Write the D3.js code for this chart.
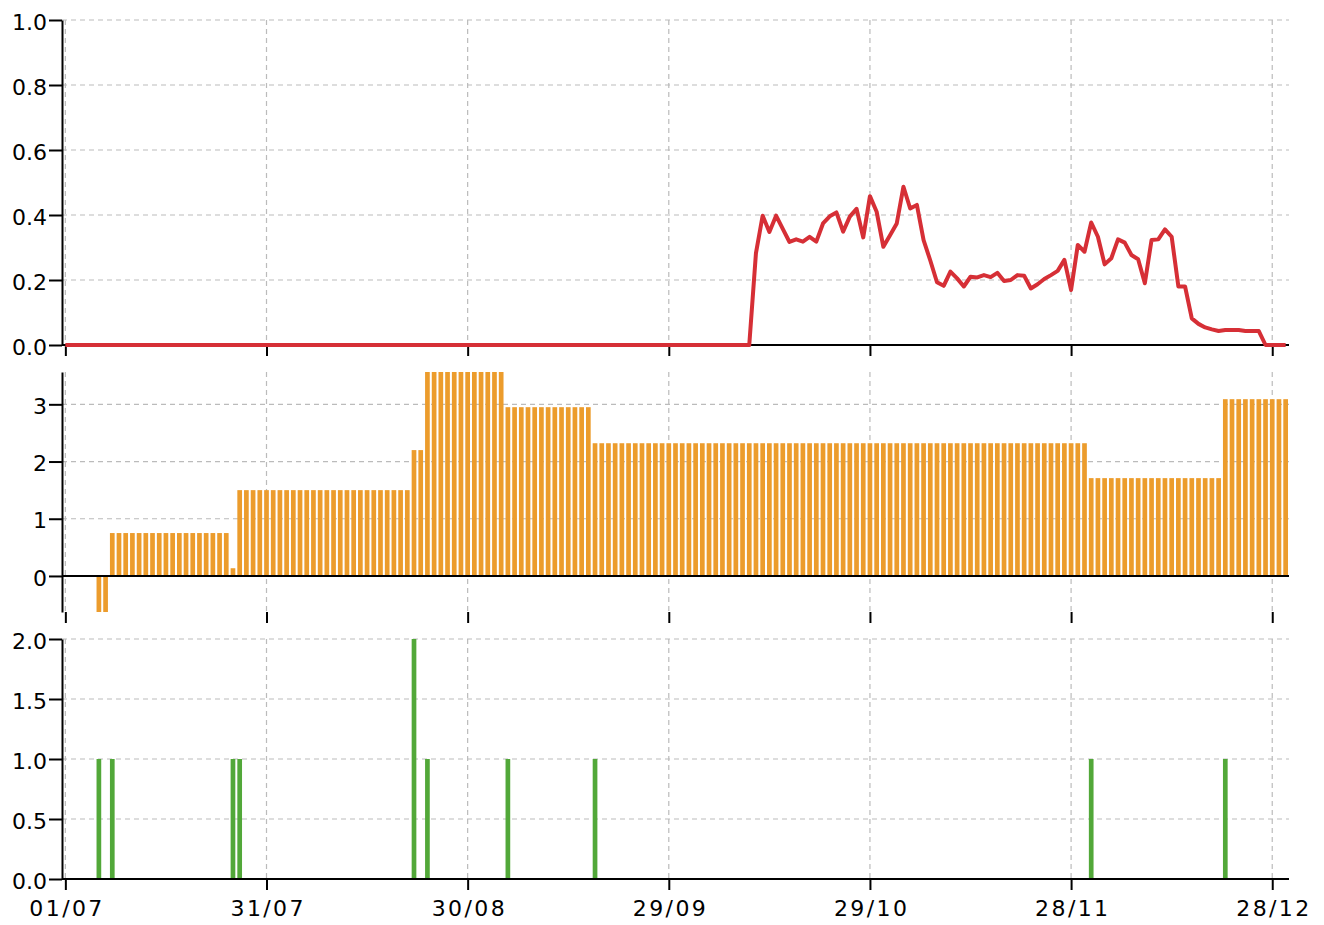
<!DOCTYPE html>
<html>
<head>
<meta charset="utf-8">
<script src="https://cdn.jsdelivr.net/npm/d3@7"></script>
<style>
  body { margin: 0; background: #fff; }
  text { font-family: "DejaVu Sans", sans-serif; }
</style>
</head>
<body>
<div id="chart"></div>
<script>
// days shown: 01/07 .. 30/12, one value per day
const startDay = "2021-07-01"
const endDay = "2021-12-31"   // exclusive

const tickDays = ["2021-07-01", "2021-07-31", "2021-08-30", "2021-09-29", "2021-10-29", "2021-11-28", "2021-12-28"]

// top panel (red line), one value per day
const redValues = [
  0,0,0,0,0,0,0,0,0,0,0,0,0,0,0,0,0,0,0,0,
  0,0,0,0,0,0,0,0,0,0,0,0,0,0,0,0,0,0,0,0,
  0,0,0,0,0,0,0,0,0,0,0,0,0,0,0,0,0,0,0,0,
  0,0,0,0,0,0,0,0,0,0,0,0,0,0,0,0,0,0,0,0,
  0,0,0,0,0,0,0,0,0,0,0,0,0,0,0,0,0,0,0,0,
  0,0,0,0.283,0.398,0.348,0.398,0.357,0.317,0.325,0.318,0.333,0.318,0.374,0.396,0.408,0.349,0.395,0.419,0.331,
  0.458,0.41,0.302,0.338,0.374,0.487,0.42,0.431,0.323,0.26,0.193,0.182,0.226,0.205,0.18,0.21,0.208,0.215,0.209,0.222,
  0.197,0.2,0.215,0.213,0.174,0.187,0.203,0.215,0.228,0.262,0.169,0.308,0.287,0.377,0.333,0.248,0.267,0.325,0.315,0.277,
  0.264,0.19,0.323,0.325,0.356,0.333,0.18,0.18,0.082,0.065,0.054,0.048,0.043,0.046,0.046,0.046,0.043,0.043,0.043,0,
  0,0,0
]

// middle panel (orange bars), one value per day
const orangeValues = [
  0,0,0,0,0,-0.63,-0.63,0.75,0.75,0.75,0.75,0.75,0.75,0.75,0.75,0.75,0.75,0.75,0.75,0.75,
  0.75,0.75,0.75,0.75,0.75,0.135,1.5,1.5,1.5,1.5,1.5,1.5,1.5,1.5,1.5,1.5,1.5,1.5,1.5,1.5,
  1.5,1.5,1.5,1.5,1.5,1.5,1.5,1.5,1.5,1.5,1.5,1.5,2.2,2.2,3.565,3.565,3.565,3.565,3.565,3.565,
  3.565,3.565,3.565,3.565,3.565,3.565,2.95,2.95,2.95,2.95,2.95,2.95,2.95,2.95,2.95,2.95,2.95,2.95,2.95,2.32,
  2.32,2.32,2.32,2.32,2.32,2.32,2.32,2.32,2.32,2.32,2.32,2.32,2.32,2.32,2.32,2.32,2.32,2.32,2.32,2.32,
  2.32,2.32,2.32,2.32,2.32,2.32,2.32,2.32,2.32,2.32,2.32,2.32,2.32,2.32,2.32,2.32,2.32,2.32,2.32,2.32,
  2.32,2.32,2.32,2.32,2.32,2.32,2.32,2.32,2.32,2.32,2.32,2.32,2.32,2.32,2.32,2.32,2.32,2.32,2.32,2.32,
  2.32,2.32,2.32,2.32,2.32,2.32,2.32,2.32,2.32,2.32,2.32,2.32,2.32,1.71,1.71,1.71,1.71,1.71,1.71,1.71,
  1.71,1.71,1.71,1.71,1.71,1.71,1.71,1.71,1.71,1.71,1.71,1.71,1.71,3.09,3.09,3.09,3.09,3.09,3.09,3.09,
  3.09,3.09,3.09
]

// bottom panel (green bars), only the days that have a value
const greenDays = ["2021-07-06", "2021-07-08", "2021-07-26", "2021-07-27", "2021-08-22", "2021-08-24", "2021-09-05", "2021-09-18", "2021-12-01", "2021-12-21"]
const greenValues = [1, 1, 1, 1, 2, 1, 1, 1, 1, 1]

const redTicks = [0, 0.2, 0.4, 0.6, 0.8, 1.0]
const orangeTicks = [0, 1, 2, 3]
const greenTicks = [0, 0.5, 1.0, 1.5, 2.0]

const width = 1324, height = 925
const left = 62, right = 1289

const parse = d3.timeParse("%Y-%m-%d")
const days = d3.timeDay.range(parse(startDay), parse(endDay))
const ticks = tickDays.map(parse)

const svg = d3.select("#chart").append("svg")
  .attr("width", width)
  .attr("height", height)

// half a day of room on each side so bars are centred on their date
const x = d3.scaleTime()
  .domain([d3.timeHour.offset(days[0], -12), d3.timeHour.offset(days[days.length - 1], 12)])
  .range([left, right])
const step = x(days[1]) - x(days[0])
const barW = step * 0.7

function drawPanel(top, bottom, domain, yTicks, fmt) {
  const y = d3.scaleLinear().domain(domain).range([bottom, top])
  const g = svg.append("g")

  // grid
  g.selectAll(".hgrid").data(yTicks).enter().append("line")
    .attr("x1", left).attr("x2", right)
    .attr("y1", d => y(d)).attr("y2", d => y(d))
    .attr("stroke", "#bbb").attr("stroke-width", 1.2).attr("stroke-dasharray", "5,4")
  g.selectAll(".vgrid").data(ticks).enter().append("line")
    .attr("x1", d => x(d)).attr("x2", d => x(d))
    .attr("y1", top).attr("y2", bottom)
    .attr("stroke", "#bbb").attr("stroke-width", 1.2).attr("stroke-dasharray", "5,4")

  // y axis
  const ax = g.append("g")
    .attr("transform", "translate(" + left + ",0)")
    .call(d3.axisLeft(y).tickValues(yTicks).tickSize(13).tickSizeOuter(0).tickPadding(2).tickFormat(fmt))
  ax.select(".domain").attr("stroke-width", 2)
  ax.selectAll(".tick line").attr("stroke-width", 2)
  ax.selectAll("text").attr("font-size", 22).attr("dy", "0.42em").attr("fill", "#000")

  return { y: y, g: g }
}

function xTicks(g, yPos, labels) {
  const ax = g.append("g")
    .attr("transform", "translate(0," + yPos + ")")
    .call(d3.axisBottom(x).tickValues(ticks).tickSize(11).tickPadding(10)
      .tickFormat(labels ? d3.timeFormat("%d/%m") : ""))
  ax.select(".domain").remove()
  ax.selectAll(".tick line").attr("stroke-width", 2)
  ax.selectAll("text").attr("font-size", 22).attr("letter-spacing", "2.4px").attr("dx", "1.2px").attr("fill", "#000")
}

function baseline(g, yPos) {
  g.append("line")
    .attr("x1", left).attr("x2", right)
    .attr("y1", yPos).attr("y2", yPos)
    .attr("stroke", "#000").attr("stroke-width", 2)
}

// ---- top panel
const p1 = drawPanel(20, 345, [0, 1], redTicks, d3.format(".1f"))
baseline(p1.g, p1.y(0))
xTicks(p1.g, 345, false)
p1.g.append("path")
  .datum(days)
  .attr("fill", "none")
  .attr("stroke", "#d62f36")
  .attr("stroke-width", 4)
  .attr("stroke-linejoin", "round")
  .attr("d", d3.line().x(d => x(d)).y((d, i) => p1.y(redValues[i])))

// ---- middle panel
const p2 = drawPanel(372, 612, d3.extent(orangeValues), orangeTicks, d3.format("d"))
p2.g.selectAll(".bar").data(days).enter().append("rect")
  .attr("x", d => x(d) - barW / 2)
  .attr("width", barW)
  .attr("y", (d, i) => p2.y(Math.max(0, orangeValues[i])))
  .attr("height", (d, i) => Math.abs(p2.y(orangeValues[i]) - p2.y(0)))
  .attr("fill", "#ec9c2c")
baseline(p2.g, p2.y(0))
xTicks(p2.g, 612, false)

// ---- bottom panel
const p3 = drawPanel(639, 879, [0, 2], greenTicks, d3.format(".1f"))
p3.g.selectAll(".bar").data(greenDays).enter().append("rect")
  .attr("x", d => x(parse(d)) - barW / 2)
  .attr("width", barW)
  .attr("y", (d, i) => p3.y(greenValues[i]))
  .attr("height", (d, i) => p3.y(0) - p3.y(greenValues[i]))
  .attr("fill", "#52a839")
baseline(p3.g, p3.y(0))
xTicks(p3.g, 879, true)
</script>
</body>
</html>
